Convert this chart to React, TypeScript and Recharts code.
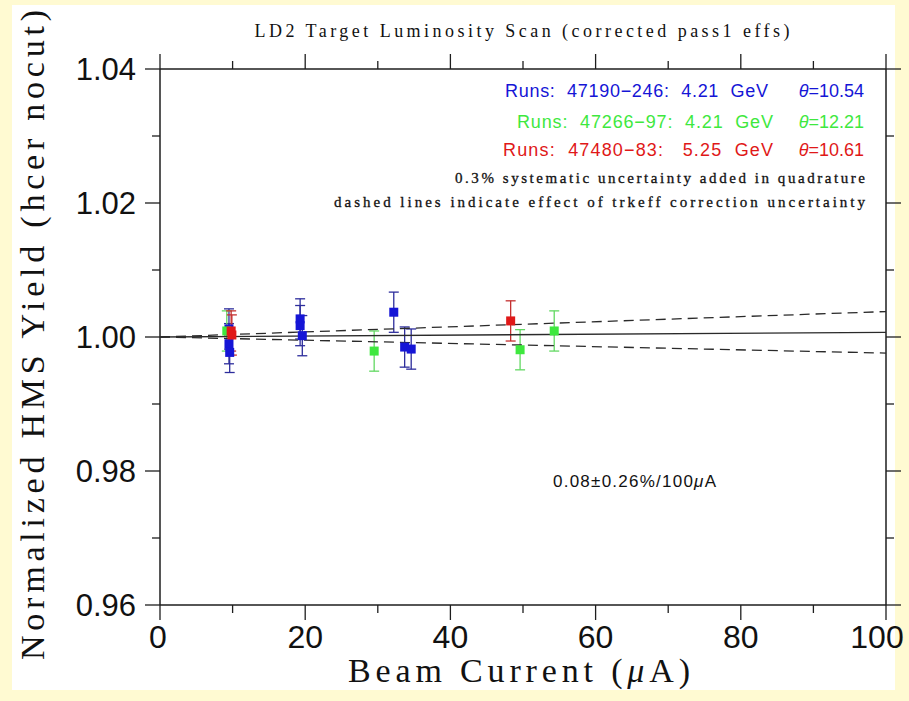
import React from 'react';
import { ScatterChart, Scatter, XAxis, YAxis, ErrorBar } from 'recharts';

// ---------- data ----------
const xTicks = [0, 10, 20, 30, 40, 50, 60, 70, 80, 90, 100];
const yTicks = [0.96, 0.97, 0.98, 0.99, 1.0, 1.01, 1.02, 1.03, 1.04];

// Runs 47190-246 (4.21 GeV, theta=10.54)
const blueRuns = [
  { x: 9.5, y: 1.0012, err: 0.003 },
  { x: 9.5, y: 0.999, err: 0.003 },
  { x: 9.6, y: 0.9977, err: 0.003 },
  { x: 19.3, y: 1.0027, err: 0.003 },
  { x: 19.3, y: 1.0017, err: 0.003 },
  { x: 19.6, y: 1.0002, err: 0.003 },
  { x: 32.2, y: 1.0037, err: 0.003 },
  { x: 33.7, y: 0.9985, err: 0.003 },
  { x: 34.6, y: 0.9982, err: 0.003 },
];

// Runs 47266-97 (4.21 GeV, theta=12.21)
const greenRuns = [
  { x: 9.2, y: 1.0009, err: 0.003 },
  { x: 29.5, y: 0.9979, err: 0.003 },
  { x: 49.6, y: 0.9981, err: 0.003 },
  { x: 54.3, y: 1.0009, err: 0.003 },
];

// Runs 47480-83 (5.25 GeV, theta=10.61)
const redRuns = [
  { x: 9.8, y: 1.0009, err: 0.003 },
  { x: 9.9, y: 1.0003, err: 0.003 },
  { x: 48.3, y: 1.0024, err: 0.003 },
];

// linear fit and trkeff uncertainty band
const fitLine = [
  { x: 0, y: 1.0 },
  { x: 100, y: 1.0007 },
];
const fitUpper = [
  { x: 0, y: 1.0 },
  { x: 100, y: 1.0038 },
];
const fitLower = [
  { x: 0, y: 1.0 },
  { x: 100, y: 0.9976 },
];

// ---------- styles ----------
const AXIS = '#1e1e1e';
const BLUE = '#1515d6';
const BLUE_ERR = '#2d2d9c';
const GREEN = '#3ee83e';
const GREEN_ERR = '#62d862';
const RED = '#e01818';
const RED_ERR = '#c43030';
const SERIF = '"Liberation Serif", "DejaVu Serif", serif';
const SANS = '"Liberation Sans", Arial, sans-serif';

const square = (color: string) => (props: any) => {
  const { cx, cy } = props;
  if (cx == null || cy == null) return <g />;
  return <rect x={cx - 4.5} y={cy - 4.5} width={9} height={9} fill={color} />;
};

const noShape = () => <g />;

const isMajorX = (v: number) => Math.round(v) % 20 === 0;
const isMajorY = (v: number) => Math.round(v * 100) % 2 === 0;

const BottomTick = (props: any) => {
  const { x, y, payload } = props;
  const v = payload.value as number;
  const major = isMajorX(v);
  const labelX = v === 100 ? x - 9 : v === 0 ? x - 2 : x;
  return (
    <g>
      <line x1={x} x2={x} y1={y} y2={y + (major ? 15 : 8)} stroke={AXIS} strokeWidth={1.3} />
      {major && (
        <text x={labelX} y={y + 43} textAnchor="middle" fontFamily={SANS} fontSize={32} fill="#111">
          {v}
        </text>
      )}
    </g>
  );
};

const TopTick = (props: any) => {
  const { x, y, payload } = props;
  const major = isMajorX(payload.value);
  return <line x1={x} x2={x} y1={y} y2={y - (major ? 15 : 8)} stroke={AXIS} strokeWidth={1.3} />;
};

const LeftTick = (props: any) => {
  const { x, y, payload } = props;
  const v = payload.value as number;
  const major = isMajorY(v);
  return (
    <g>
      <line x1={x} x2={x - (major ? 15 : 8)} y1={y} y2={y} stroke={AXIS} strokeWidth={1.3} />
      {major && (
        <text x={x - 24} y={y + 11} textAnchor="end" fontFamily={SANS} fontSize={31} fill="#111">
          {v.toFixed(2)}
        </text>
      )}
    </g>
  );
};

const RightTick = (props: any) => {
  const { x, y, payload } = props;
  const major = isMajorY(payload.value);
  return <line x1={x} x2={x + (major ? 15 : 8)} y1={y} y2={y} stroke={AXIS} strokeWidth={1.3} />;
};

const axisLine = { stroke: AXIS, strokeWidth: 1.5 };

export default function App() {
  return (
    <div
      style={{
        position: 'absolute',
        left: 0,
        top: 0,
        width: 909,
        height: 701,
        background: '#fffad2',
        overflow: 'hidden',
      }}
    >
      <div style={{ position: 'absolute', left: 12, top: 5, width: 883, height: 685, background: '#ffffff' }} />
      <div style={{ position: 'absolute', left: 0, top: 0 }}>
        <ScatterChart width={909} height={701} margin={{ top: 49, right: 3, bottom: 46, left: 100 }}>
          <XAxis
            xAxisId={0}
            type="number"
            dataKey="x"
            domain={[0, 100]}
            allowDataOverflow
            ticks={xTicks}
            interval={0}
            height={50}
            tickSize={0}
            tickMargin={0}
            tickLine={false}
            axisLine={axisLine}
            tick={<BottomTick />}
          />
          <XAxis
            xAxisId="top"
            orientation="top"
            type="number"
            dataKey="x"
            domain={[0, 100]}
            allowDataOverflow
            ticks={xTicks}
            interval={0}
            height={20}
            tickSize={0}
            tickMargin={0}
            tickLine={false}
            axisLine={axisLine}
            tick={<TopTick />}
          />
          <YAxis
            yAxisId={0}
            type="number"
            dataKey="y"
            domain={[0.96, 1.04]}
            allowDataOverflow
            ticks={yTicks}
            interval={0}
            width={60}
            tickSize={0}
            tickMargin={0}
            tickLine={false}
            axisLine={axisLine}
            tick={<LeftTick />}
          />
          <YAxis
            yAxisId="right"
            orientation="right"
            type="number"
            dataKey="y"
            domain={[0.96, 1.04]}
            allowDataOverflow
            ticks={yTicks}
            interval={0}
            width={20}
            tickSize={0}
            tickMargin={0}
            tickLine={false}
            axisLine={axisLine}
            tick={<RightTick />}
          />

          <Scatter
            data={fitUpper}
            line={{ stroke: '#2a2a2a', strokeWidth: 1.3, strokeDasharray: '10 6' }}
            lineType="joint"
            shape={noShape}
            isAnimationActive={false}
            legendType="none"
          />
          <Scatter
            data={fitLower}
            line={{ stroke: '#2a2a2a', strokeWidth: 1.3, strokeDasharray: '10 6' }}
            lineType="joint"
            shape={noShape}
            isAnimationActive={false}
            legendType="none"
          />
          <Scatter
            data={fitLine}
            line={{ stroke: '#2a2a2a', strokeWidth: 1.3 }}
            lineType="joint"
            shape={noShape}
            isAnimationActive={false}
            legendType="none"
          />

          <Scatter data={blueRuns} shape={square(BLUE)} isAnimationActive={false}>
            <ErrorBar dataKey="err" direction="y" width={5} stroke={BLUE_ERR} strokeWidth={1.3} />
          </Scatter>
          <Scatter data={greenRuns} shape={square(GREEN)} isAnimationActive={false}>
            <ErrorBar dataKey="err" direction="y" width={5} stroke={GREEN_ERR} strokeWidth={1.3} />
          </Scatter>
          <Scatter data={redRuns} shape={square(RED)} isAnimationActive={false}>
            <ErrorBar dataKey="err" direction="y" width={5} stroke={RED_ERR} strokeWidth={1.3} />
          </Scatter>
        </ScatterChart>
      </div>

      <svg
        width={909}
        height={701}
        style={{ position: 'absolute', left: 0, top: 0, pointerEvents: 'none' }}
      >
        <text x={522} y={37} textAnchor="middle" fontFamily={SERIF} fontSize={18} fill="#111" textLength={535} lengthAdjust="spacing">
          LD2 Target Luminosity Scan (corrected pass1 effs)
        </text>

        <text x={519} y={682} textAnchor="middle" fontFamily={SERIF} fontSize={34} fill="#111" textLength={342} lengthAdjust="spacing">
          Beam Current (<tspan fontStyle="italic">μ</tspan>A)
        </text>

        <text
          transform="translate(44,335) rotate(-90)"
          textAnchor="middle"
          fontFamily={SERIF}
          fontSize={34}
          fill="#111"
          textLength={650}
          lengthAdjust="spacing"
        >
          Normalized HMS Yield (hcer nocut)
        </text>

        <text x={505} y={97} fontFamily={SANS} fontSize={18} fill={BLUE} textLength={263} lengthAdjust="spacing" xmlSpace="preserve">
          Runs:  47190−246:  4.21  GeV
        </text>
        <text x={864} y={97} textAnchor="end" fontFamily={SANS} fontSize={18} fill={BLUE}>
          <tspan fontStyle="italic">θ</tspan>=10.54
        </text>

        <text x={517} y={128} fontFamily={SANS} fontSize={18} fill={GREEN} textLength={256} lengthAdjust="spacing" xmlSpace="preserve">
          Runs:  47266−97:  4.21  GeV
        </text>
        <text x={864} y={128} textAnchor="end" fontFamily={SANS} fontSize={18} fill={GREEN}>
          <tspan fontStyle="italic">θ</tspan>=12.21
        </text>

        <text x={503} y={156} fontFamily={SANS} fontSize={18} fill={RED} textLength={270} lengthAdjust="spacing" xmlSpace="preserve">
          Runs:  47480−83:   5.25  GeV
        </text>
        <text x={864} y={156} textAnchor="end" fontFamily={SANS} fontSize={18} fill={RED}>
          <tspan fontStyle="italic">θ</tspan>=10.61
        </text>

        <text x={865} y={183} textAnchor="end" fontFamily={SERIF} fontSize={15} fill="#111" stroke="#111" strokeWidth={0.3} textLength={410} lengthAdjust="spacing">
          0.3% systematic uncertainty added in quadrature
        </text>
        <text x={865} y={207} textAnchor="end" fontFamily={SERIF} fontSize={15} fill="#111" stroke="#111" strokeWidth={0.3} textLength={531} lengthAdjust="spacing">
          dashed lines indicate effect of trkeff correction uncertainty
        </text>

        <text x={553} y={487} fontFamily={SANS} fontSize={17} fill="#111" textLength={163} lengthAdjust="spacing">
          0.08±0.26%/100<tspan fontStyle="italic">μ</tspan>A
        </text>
      </svg>
    </div>
  );
}
